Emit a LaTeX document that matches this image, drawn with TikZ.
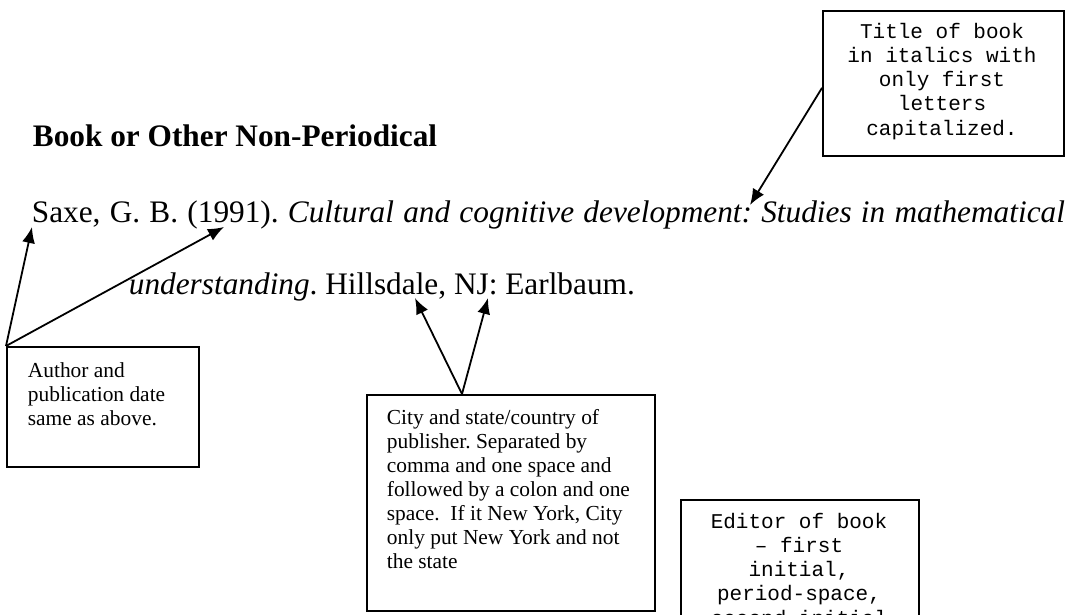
\documentclass[tikz,border=0pt]{standalone}
\usepackage{fontspec}
\setmainfont{Liberation Serif}
\newfontfamily\boxmono{Liberation Mono}
\usetikzlibrary{arrows.meta}
\frenchspacing

\begin{document}
\begin{tikzpicture}[x=1pt, y=-1pt, line width=1.8pt, >={Latex[length=16pt,width=13pt]},
  ref/.style={inner sep=0pt, anchor=base west, font=\fontsize{31.3}{37}\selectfont},
  note/.style={draw, inner sep=0pt, anchor=north west},
  serifnote/.style={inner sep=0pt, anchor=base west, align=left, font=\fontsize{21.4}{24}\selectfont},
  mononote/.style={inner sep=0pt, anchor=base, align=center, font=\boxmono\fontsize{21}{24.3}\selectfont}]
\useasboundingbox (0,0) rectangle (1079,614);
\clip (0,0) rectangle (1079,614);
% reference entry
\node[ref] (head) at (32,146) {\textbf{Book or Other Non-Periodical}};
\node[ref] (line1) at (31,222) {\makebox[1033pt][s]{Saxe, G. B. (1991). \textit{Cultural and cognitive development: Studies in mathematical}}};
\node[ref] (line2) at (128,294) {\textit{understanding}. Hillsdale, NJ: Earlbaum.};
\coordinate (saxe) at (32,227);
\coordinate (year) at (224,227);
\coordinate (colon) at (750,205);
\coordinate (city) at (415,298);
\coordinate (state) at (488,298);
% author box
\node[note, minimum width=192pt, minimum height=120pt] (authorbox) at (6,346) {};
\node[serifnote] (authortxt) at (27,425) {Author and\\publication date\\same as above.};
\draw[->] (authorbox.north west) -- (saxe);
\draw[->] (authorbox.north west) -- (year);
% title box
\node[note, minimum width=241pt, minimum height=145pt] (titlebox) at (822,10) {};
\node[mononote] (titletxt) at (942,135.2) {Title of book\\in italics with\\only first\\letters\\capitalized.};
\draw[->] ([yshift=-4.5pt]titlebox.west) -- (colon);
% publisher box
\node[note, minimum width=288pt, minimum height=216pt] (citybox) at (366,394) {};
\node[serifnote] (citytxt) at (386,568) {City and state/country of\\publisher. Separated by\\comma and one space and\\followed by a colon and one\\space.\ \ If it New York, City\\only put New York and not\\the state};
\draw[->] ([xshift=96pt]citybox.north west) -- (city);
\draw[->] ([xshift=96pt]citybox.north west) -- (state);
% editor box
\node[note, minimum width=238pt, minimum height=200pt] (editorbox) at (680,499) {};
\node[mononote] (editortxt) at (799,625.2) {Editor of book\\– first\\initial,\\period-space,\\second initial};
\end{tikzpicture}
\end{document}
